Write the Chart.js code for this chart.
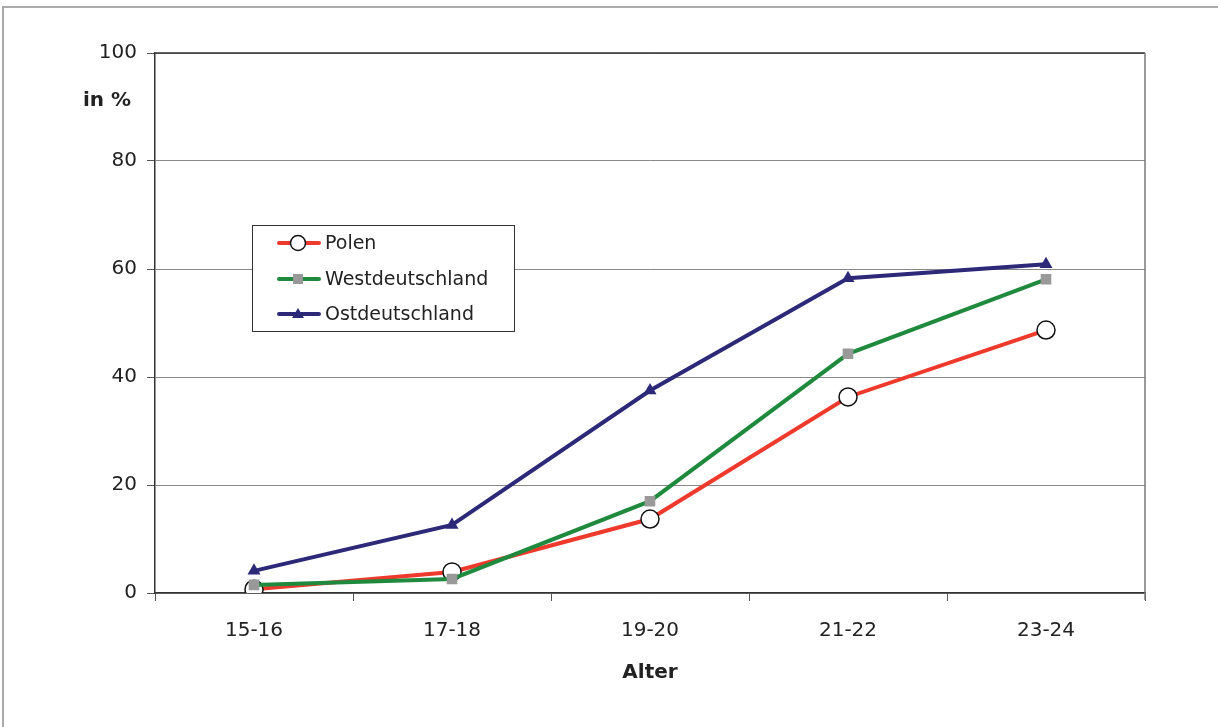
<!DOCTYPE html>
<html>
<head>
<meta charset="utf-8">
<script src="https://cdn.jsdelivr.net/npm/chart.js@4/dist/chart.umd.min.js"></script>
<style>
  html, body { margin: 0; padding: 0; background: #fff; }
  #wrap { position: relative; width: 1218px; height: 727px; }
  canvas { display: block; }
</style>
</head>
<body>
<div id="wrap"><canvas id="c" width="1218" height="727"></canvas></div>
<script>
const categories = ['15-16', '17-18', '19-20', '21-22', '23-24'];
const polen = [0.7, 3.9, 13.7, 36.3, 48.7];
const westdeutschland = [1.5, 2.6, 17.0, 44.3, 58.1];
const ostdeutschland = [4.1, 12.6, 37.5, 58.3, 60.9];
const seriesNames = ['Polen', 'Westdeutschland', 'Ostdeutschland'];
const yTicks = [0, 20, 40, 60, 80, 100];
const yTitle = 'in %';
const xTitle = 'Alter';

const FONT = '"DejaVu Sans", sans-serif';

const framePlugin = {
  id: 'frame',
  beforeDraw(chart) {
    const ctx = chart.ctx;
    ctx.save();
    ctx.fillStyle = '#fff';
    ctx.fillRect(0, 0, chart.width, chart.height);
    ctx.strokeStyle = '#aaa';
    ctx.lineWidth = 2;
    ctx.beginPath();
    ctx.moveTo(3, chart.height);
    ctx.lineTo(3, 7);
    ctx.lineTo(chart.width, 7);
    ctx.stroke();
    ctx.restore();
  },
  afterDatasetsDraw(chart) {
    const ctx = chart.ctx;
    const a = chart.chartArea;
    ctx.save();
    ctx.strokeStyle = '#333';
    ctx.lineWidth = 1.5;
    ctx.beginPath();
    ctx.moveTo(a.left, a.top);
    ctx.lineTo(a.right, a.top);
    ctx.stroke();
    ctx.strokeStyle = '#777';
    ctx.beginPath();
    ctx.moveTo(a.right, a.top);
    ctx.lineTo(a.right, a.bottom + 7);
    ctx.stroke();
    // y title
    ctx.fillStyle = '#222';
    ctx.font = 'bold 20px ' + FONT;
    ctx.textAlign = 'right';
    ctx.textBaseline = 'middle';
    ctx.fillText(yTitle, a.left - 24, 101);
    // legend
    const lx = 252, ly = 225, lw = 262, lh = 106;
    ctx.fillStyle = '#fff';
    ctx.fillRect(lx, ly, lw, lh);
    ctx.strokeStyle = '#333';
    ctx.lineWidth = 1;
    ctx.strokeRect(lx + 0.5, ly + 0.5, lw, lh);
    const rows = [243, 279, 314];
    chart.data.datasets.forEach((ds, i) => {
      const y = rows[i];
      ctx.strokeStyle = ds.borderColor;
      ctx.lineWidth = 4;
      ctx.lineCap = 'round';
      ctx.beginPath();
      ctx.moveTo(279, y);
      ctx.lineTo(319, y);
      ctx.stroke();
      ctx.fillStyle = ds.pointBackgroundColor;
      ctx.strokeStyle = ds.pointBorderColor;
      ctx.lineWidth = ds.pointBorderWidth;
      ctx.beginPath();
      if (ds.pointStyle === 'circle') {
        ctx.arc(298, y, 7.5, 0, Math.PI * 2);
        ctx.fill(); ctx.stroke();
      } else if (ds.pointStyle === 'rect') {
        ctx.fillRect(298 - 5, y - 5, 10, 10);
      } else {
        ctx.moveTo(298, y - 6);
        ctx.lineTo(304, y + 4);
        ctx.lineTo(292, y + 4);
        ctx.closePath();
        ctx.fill();
      }
      ctx.fillStyle = '#222';
      ctx.font = '19px ' + FONT;
      ctx.textAlign = 'left';
      ctx.textBaseline = 'middle';
      ctx.fillText(ds.label, 325, y + 1);
    });
    ctx.restore();
  }
};

new Chart(document.getElementById('c'), {
  type: 'line',
  data: {
    labels: categories,
    datasets: [
      {
        label: seriesNames[0], data: polen,
        borderColor: '#ee3a2c', borderWidth: 4,
        pointStyle: 'circle', pointRadius: 9, pointBorderWidth: 1.5,
        pointBackgroundColor: '#fff', pointBorderColor: '#111', order: 3
      },
      {
        label: seriesNames[1], data: westdeutschland,
        borderColor: '#1f8a3e', borderWidth: 4,
        pointStyle: 'rect', pointRadius: 7.5, pointBorderWidth: 0,
        pointBackgroundColor: '#999', pointBorderColor: '#999', order: 2
      },
      {
        label: seriesNames[2], data: ostdeutschland,
        borderColor: '#2c2a78', borderWidth: 4,
        pointStyle: 'triangle', pointRadius: 7.5, pointBorderWidth: 0,
        pointBackgroundColor: '#2c2a78', pointBorderColor: '#2c2a78', order: 1
      }
    ]
  },
  options: {
    responsive: false,
    animation: false,
    events: [],
    layout: { padding: { left: 0, right: 73, top: 53, bottom: 38 } },
    plugins: { legend: { display: false }, tooltip: { enabled: false } },
    elements: { line: { tension: 0 } },
    scales: {
      x: {
        offset: true,
        grid: { display: true, offset: true, drawOnChartArea: false, drawTicks: true, tickLength: 8, color: '#555', lineWidth: 1 },
        border: { display: true, color: '#333', width: 1.5 },
        ticks: { color: '#222', font: { family: FONT, size: 20 }, padding: 18, maxRotation: 0 },
        title: { display: true, text: xTitle, color: '#222', font: { family: FONT, size: 20, weight: 'bold' }, padding: { top: 0, bottom: 4 } },
        afterFit(scale) { scale.height = 96; }
      },
      y: {
        min: 0, max: 100,
        afterBuildTicks(scale) { scale.ticks = yTicks.map(v => ({ value: v })); },
        grid: { color: '#888', lineWidth: 1, tickLength: 8, tickColor: '#555' },
        border: { display: true, color: '#333', width: 1.5 },
        ticks: { color: '#222', font: { family: FONT, size: 20 }, padding: 10 },
        afterFit(scale) { scale.width = 155; }
      }
    }
  },
  plugins: [framePlugin]
});
</script>
</body>
</html>
